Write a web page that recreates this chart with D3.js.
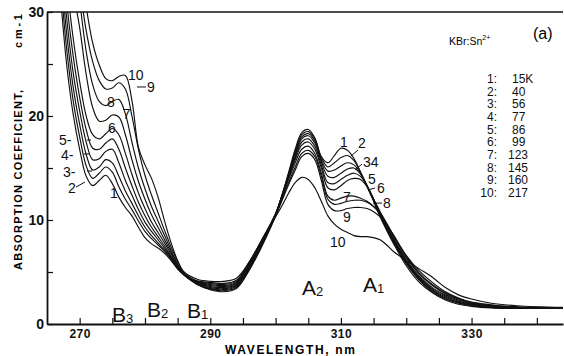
<!DOCTYPE html>
<html>
<head>
<meta charset="utf-8">
<script src="https://cdn.jsdelivr.net/npm/d3@7"></script>
<style>
  body { margin: 0; background: #fff; }
  svg { display: block; font-family: "Liberation Sans", Arial, sans-serif; }
  .curve { fill: none; stroke: #111; stroke-width: 1.15; }
  .lead { stroke: #111; stroke-width: 1; }
  .lbl { font-size: 14px; fill: #111; }
</style>
</head>
<body>
<div class="chart"></div>
<script>
// wavelength grid (nm) shared by all ten spectra
var wavelength = [265, 267, 268, 269, 270, 271, 272, 273, 274, 275, 276, 277, 278, 279, 280, 281, 282, 283, 284, 285, 286,
    288, 290, 292, 294, 296, 298, 300, 301, 302, 303, 304, 305, 306, 307, 308, 309, 310, 311, 312, 313, 314, 315, 316, 317, 318,
    320, 322, 324, 326, 328, 330, 333, 337, 344];

// absorption coefficient (cm-1), one array per temperature
var curve1 = [48, 32, 25, 20.2, 16.8, 14.2, 13.3, 13.8, 14.3, 13.5, 12.2, 11.2, 10.4, 9.3, 8.3, 7.7, 7.3, 6.8, 6.1, 5.3, 4.7,
    3.8, 3.3, 3.1, 3.4, 5.2, 7.6, 10.4, 12.4, 14.6, 16.8, 18.4, 18.7, 17.9, 16.1, 15.5, 16.2, 16.9, 16.7, 15.9, 14.6, 13.2, 11.8, 10.3, 9.0, 7.8,
    5.6, 4.0, 3.0, 2.3, 1.9, 1.7, 1.55, 1.5, 1.5];
var curve2 = [50, 33.5, 26.5, 21.5, 18.0, 15.2, 14.0, 14.5, 15.1, 14.6, 13.2, 12.0, 11.0, 9.9, 8.9, 8.2, 7.6, 7.0, 6.2, 5.3, 4.7,
    3.8, 3.35, 3.2, 3.5, 5.3, 7.7, 10.5, 12.4, 14.5, 16.6, 18.2, 18.5, 17.8, 16.0, 15.1, 15.5, 16.0, 16.2, 15.7, 14.6, 13.3, 11.9, 10.4, 9.1, 7.9,
    5.8, 4.2, 3.1, 2.4, 2.0, 1.75, 1.6, 1.5, 1.5];
var curve3 = [52, 35, 28, 22.8, 19.2, 16.3, 14.8, 15.1, 15.8, 15.5, 14.2, 12.8, 11.6, 10.4, 9.3, 8.5, 7.8, 7.1, 6.3, 5.4, 4.7,
    3.85, 3.4, 3.3, 3.6, 5.4, 7.8, 10.5, 12.4, 14.4, 16.4, 18.0, 18.3, 17.6, 15.8, 14.7, 14.8, 15.2, 15.5, 15.3, 14.5, 13.3, 12.0, 10.5, 9.2, 8.0,
    5.9, 4.3, 3.2, 2.5, 2.05, 1.8, 1.6, 1.5, 1.5];
var curve4 = [54, 36.5, 29.5, 24.2, 20.5, 17.5, 15.8, 15.9, 16.6, 16.8, 15.5, 13.8, 12.4, 11.0, 9.8, 8.9, 8.1, 7.3, 6.4, 5.5, 4.75,
    3.9, 3.5, 3.4, 3.7, 5.5, 7.9, 10.6, 12.4, 14.3, 16.2, 17.8, 18.1, 17.4, 15.6, 14.2, 14.1, 14.5, 14.9, 15.0, 14.4, 13.3, 12.0, 10.6, 9.3, 8.1,
    6.0, 4.4, 3.3, 2.6, 2.1, 1.85, 1.65, 1.55, 1.5];
var curve5 = [56, 38, 31, 25.8, 21.8, 18.7, 16.9, 16.8, 17.4, 17.8, 16.8, 15.0, 13.3, 11.7, 10.4, 9.3, 8.4, 7.5, 6.5, 5.5, 4.75,
    3.95, 3.6, 3.5, 3.8, 5.6, 8.0, 10.6, 12.4, 14.2, 16.0, 17.5, 17.8, 17.1, 15.3, 13.6, 13.5, 13.9, 14.3, 14.5, 14.2, 13.3, 12.0, 10.7, 9.4, 8.2,
    6.1, 4.5, 3.4, 2.7, 2.2, 1.9, 1.7, 1.55, 1.5];
var curve6 = [58, 40, 33, 27.5, 23.3, 20.0, 18.2, 17.8, 18.3, 18.8, 18.2, 16.4, 14.4, 12.6, 11.1, 9.8, 8.8, 7.8, 6.7, 5.6, 4.8,
    4.0, 3.7, 3.6, 3.9, 5.7, 8.1, 10.6, 12.3, 14.1, 15.8, 17.2, 17.5, 16.8, 15.0, 13.1, 12.9, 13.3, 13.8, 14.0, 13.9, 13.2, 12.0, 10.8, 9.5, 8.3,
    6.2, 4.6, 3.5, 2.8, 2.3, 1.95, 1.7, 1.6, 1.5];
var curve7 = [62, 43, 36, 32, 28.5, 24.0, 20.8, 19.5, 19.6, 20.1, 19.9, 18.2, 15.8, 13.7, 12.0, 10.5, 9.3, 8.1, 6.9, 5.7, 4.8,
    4.05, 3.8, 3.7, 4.0, 5.8, 8.2, 10.6, 12.2, 13.9, 15.5, 16.8, 17.1, 16.4, 14.5, 12.3, 11.9, 12.1, 12.3, 12.3, 12.1, 11.8, 11.3, 10.6, 9.6, 8.5,
    6.4, 4.8, 3.7, 2.9, 2.4, 2.0, 1.75, 1.6, 1.5];
var curve8 = [68, 47, 40, 35, 31, 26.2, 23.0, 21.4, 21.0, 21.4, 21.6, 20.2, 17.5, 15.0, 13.0, 11.3, 9.9, 8.5, 7.1, 5.8, 4.85,
    4.1, 3.9, 3.8, 4.1, 5.9, 8.2, 10.5, 12.0, 13.6, 15.1, 16.4, 16.7, 16.1, 14.2, 12.0, 11.5, 11.6, 11.8, 11.9, 11.9, 11.7, 11.3, 10.7, 9.7, 8.6,
    6.5, 4.9, 3.8, 3.0, 2.45, 2.05, 1.8, 1.6, 1.5];
var curve9 = [72, 50, 43, 37, 32.5, 28.2, 25.2, 23.4, 22.6, 22.7, 23.2, 22.6, 20.0, 16.8, 14.3, 12.4, 10.7, 9.0, 7.4, 6.0, 4.9,
    4.15, 4.0, 3.9, 4.2, 6.0, 8.2, 10.4, 11.9, 13.4, 14.8, 16.1, 16.4, 15.8, 13.8, 11.5, 10.9, 10.9, 11.1, 11.2, 11.2, 11.1, 10.8, 10.3, 9.5, 8.6,
    6.6, 5.1, 4.0, 3.1, 2.5, 2.1, 1.85, 1.65, 1.5];
var curve10 = [76, 53, 46, 40, 35, 30.5, 27.0, 24.9, 23.6, 23.4, 23.8, 23.9, 21.5, 17.0, 15.3, 14.0, 12.2, 9.9, 7.8, 6.1, 5.0,
    4.3, 4.1, 4.1, 4.4, 6.0, 8.2, 10.3, 11.4, 12.6, 13.6, 14.1, 13.9, 13.1, 11.8, 10.4, 9.6, 9.1, 8.8, 8.5, 8.4, 8.4, 8.3, 8.1, 7.6, 7.0,
    6.1, 5.3, 4.5, 3.5, 2.8, 2.4, 2.0, 1.75, 1.6];
var curves = [curve1, curve2, curve3, curve4, curve5, curve6, curve7, curve8, curve9, curve10];

var curveNames = ['1', '2', '3', '4', '5', '6', '7', '8', '9', '10'];
var temperatures = ['15K', '40', '56', '77', '86', '99', '123', '145', '160', '217'];

var xTicks = [270, 275, 280, 285, 290, 295, 300, 305, 310, 315, 320, 325, 330, 335, 340];
var xTickLabels = [270, 290, 310, 330];
var yTicks = [0, 5, 10, 15, 20, 25, 30];
var yTickLabels = [0, 10, 20, 30];

var width = 564, height = 356;

var x = d3.scaleLinear().domain([265, 344]).range([47, 563]);
var y = d3.scaleLinear().domain([0, 30]).range([324, 12]);

var svg = d3.select('.chart').append('svg')
    .attr('width', width)
    .attr('height', height);

svg.append('defs').append('clipPath')
    .attr('id', 'plotClip')
    .append('rect')
    .attr('x', x(265))
    .attr('y', y(30))
    .attr('width', x(344) - x(265) + 1)
    .attr('height', y(0) - y(30));

var line = d3.line()
    .x(function (d) { return x(d[0]); })
    .y(function (d) { return y(d[1]); })
    .curve(d3.curveCatmullRom.alpha(0.5));

// the ten spectra, clipped at the top of the frame
svg.append('g')
    .attr('clip-path', 'url(#plotClip)')
    .selectAll('path')
    .data(curves)
    .enter()
    .append('path')
    .attr('class', 'curve')
    .attr('d', function (c) {
        return line(wavelength.map(function (w, i) { return [w, c[i]]; }));
    });

// axes, ticks pointing inwards
var xAxis = d3.axisBottom(x)
    .tickValues(xTicks)
    .tickSizeInner(-6)
    .tickSizeOuter(0)
    .tickPadding(5)
    .tickFormat(function (d) { return xTickLabels.indexOf(d) >= 0 ? d : ''; });

var gx = svg.append('g')
    .attr('transform', 'translate(0,' + y(0) + ')')
    .call(xAxis);
gx.select('.domain').attr('stroke', '#111').attr('stroke-width', 1.8);
gx.selectAll('.tick line').attr('stroke', '#111').attr('stroke-width', 1.2);
gx.selectAll('text')
    .attr('font-family', '"Liberation Sans", Arial, sans-serif')
    .attr('font-size', 12)
    .attr('font-weight', 'bold')
    .attr('letter-spacing', 0.5)
    .attr('fill', '#111');

var yAxis = d3.axisLeft(y)
    .tickValues(yTicks)
    .tickSizeInner(-6)
    .tickSizeOuter(0)
    .tickPadding(3)
    .tickFormat(function (d) { return yTickLabels.indexOf(d) >= 0 ? d : ''; });

var gy = svg.append('g')
    .attr('transform', 'translate(' + x(265) + ',0)')
    .call(yAxis);
gy.select('.domain').attr('stroke', '#111').attr('stroke-width', 1.8);
gy.selectAll('.tick line').attr('stroke', '#111').attr('stroke-width', 1.2);
gy.selectAll('text')
    .attr('font-family', '"Liberation Sans", Arial, sans-serif')
    .attr('font-size', 14)
    .attr('font-weight', 'bold')
    .attr('fill', '#111');

// top edge of the frame
svg.append('line')
    .attr('x1', x(265)).attr('x2', x(344))
    .attr('y1', y(30)).attr('y2', y(30))
    .attr('stroke', '#111')
    .attr('stroke-width', 1.6);

// axis titles
svg.append('text')
    .attr('transform', 'translate(22,180) rotate(-90)')
    .attr('text-anchor', 'middle')
    .attr('font-size', 11)
    .attr('font-weight', 'bold')
    .attr('textLength', 180)
    .attr('lengthAdjust', 'spacing')
    .text('ABSORPTION COEFFICIENT,');
svg.append('text')
    .attr('transform', 'translate(22,31) rotate(-90)')
    .attr('text-anchor', 'middle')
    .attr('font-size', 11)
    .attr('font-weight', 'bold')
    .attr('textLength', 34)
    .attr('lengthAdjust', 'spacing')
    .text('cm-1');
svg.append('text')
    .attr('x', 290)
    .attr('y', 354)
    .attr('text-anchor', 'middle')
    .attr('font-size', 12)
    .attr('font-weight', 'bold')
    .attr('textLength', 130)
    .attr('lengthAdjust', 'spacing')
    .text('WAVELENGTH, nm');

// curve numbers, placed in data units next to their curves
var curveLabels = [
    ['10', 277.4, 23.46], ['9', 280.31, 22.31], ['8', 274.19, 20.87], ['7', 276.6, 19.71], ['6', 274.34, 18.37],
    ['5-', 266.84, 17.21], ['4-', 267.14, 15.77], ['3-', 267.45, 14.13], ['2', 268.22, 12.6], ['1', 274.65, 12.12],
    ['1', 309.86, 17.02], ['2', 312.61, 16.92], ['34', 313.38, 15.1], ['5', 314.14, 13.46], ['6', 315.53, 12.6],
    ['7', 310.32, 11.73], ['8', 316.44, 11.15], ['9', 310.32, 9.81], ['10', 308.33, 7.4]
];
svg.append('g').selectAll('text')
    .data(curveLabels)
    .enter()
    .append('text')
    .attr('class', 'lbl')
    .attr('x', function (d) { return x(d[1]); })
    .attr('y', function (d) { return y(d[2]); })
    .text(function (d) { return d[0]; });

// short leader strokes from numbers to curves
var leaders = [
    [278.78, 22.79, 280.16, 22.79], [271.12, 17.69, 271.74, 17.69], [270.66, 16.35, 271.58, 16.35],
    [271.12, 14.71, 271.89, 14.71], [269.44, 13.17, 270.82, 13.65],
    [311.54, 16.15, 312.61, 16.73], [312.15, 14.81, 313.23, 15.38], [314.14, 12.88, 315.22, 13.08],
    [314.91, 11.63, 316.29, 11.63]
];
svg.append('g').selectAll('line')
    .data(leaders)
    .enter()
    .append('line')
    .attr('class', 'lead')
    .attr('x1', function (d) { return x(d[0]); })
    .attr('y1', function (d) { return y(d[1]); })
    .attr('x2', function (d) { return x(d[2]); })
    .attr('y2', function (d) { return y(d[3]); });

// band names with subscripts
var bands = [['B', '3', 274.95, 0.19], ['B', '2', 280.31, 0.67], ['B', '1', 286.43, 0.58],
    ['A', '2', 304.04, 2.79], ['A', '1', 313.38, 3.08]];
var band = svg.append('g').selectAll('text')
    .data(bands)
    .enter()
    .append('text')
    .attr('x', function (d) { return x(d[2]); })
    .attr('y', function (d) { return y(d[3]); })
    .attr('font-size', 21)
    .attr('fill', '#111');
band.append('tspan').text(function (d) { return d[0]; });
band.append('tspan')
    .attr('font-size', 13)
    .attr('dy', 1)
    .text(function (d) { return d[1]; });

// sample and panel tag
var tag = svg.append('text')
    .attr('x', 449)
    .attr('y', 45)
    .attr('font-size', 10.5)
    .text('KBr:Sn');
tag.append('tspan').attr('font-size', 7).attr('dy', -5).text('2+');
svg.append('text')
    .attr('x', 533)
    .attr('y', 39)
    .attr('font-size', 16)
    .text('(a)');

// temperature key
var key = svg.append('g')
    .attr('font-family', '"Liberation Sans Narrow", "Liberation Sans", Arial, sans-serif')
    .attr('font-size', 12)
    .attr('fill', '#111');
key.selectAll('.num')
    .data(curveNames)
    .enter()
    .append('text')
    .attr('class', 'num')
    .attr('x', 497)
    .attr('y', function (d, i) { return 83 + i * 12.67; })
    .attr('text-anchor', 'end')
    .text(function (d) { return d + ':'; });
key.selectAll('.temp')
    .data(temperatures)
    .enter()
    .append('text')
    .attr('class', 'temp')
    .attr('x', function (d) { return d.length === 3 && d !== '15K' ? 508 : 512; })
    .attr('y', function (d, i) { return 83 + i * 12.67; })
    .text(function (d) { return d; });
</script>
</body>
</html>
